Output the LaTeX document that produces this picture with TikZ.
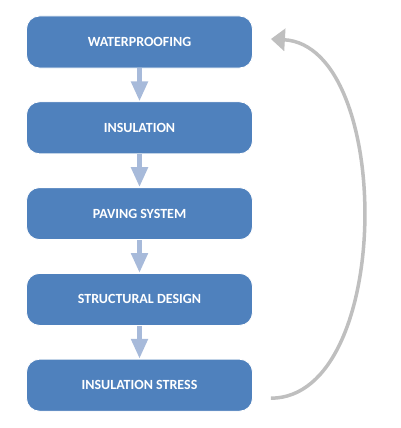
\documentclass[tikz,border=0pt]{standalone}
\usepackage{fontspec}
\setmainfont{Carlito}
\usetikzlibrary{arrows.meta}
\definecolor{boxblue}{HTML}{4F81BD}
\definecolor{arrowblue}{HTML}{A7BADA}
\definecolor{loopgray}{HTML}{BFBFBF}
\tikzset{
  stepbox/.style={rectangle, rounded corners=13pt, fill=boxblue, draw=white, line width=0.8pt,
    minimum width=226pt, minimum height=52pt, text=white, font=\bfseries\fontsize{14}{16}\selectfont},
  downarrow/.style={draw=arrowblue, line width=5pt, -{Triangle[length=20pt,width=16pt]}},
  looparrow/.style={draw=loopgray, line width=3.5pt, -{Triangle[length=14pt,width=22pt]}}
}
\begin{document}
\begin{tikzpicture}[x=1pt,y=-1pt]
\useasboundingbox (0,0) rectangle (400,428);
\node[stepbox] (a) at (139.5,42) {WATERPROOFING};
\node[stepbox] (b) at (139.5,127.8) {INSULATION};
\node[stepbox] (c) at (139.5,213.6) {PAVING SYSTEM};
\node[stepbox] (d) at (139.5,299.4) {STRUCTURAL DESIGN};
\node[stepbox] (e) at (139.5,385.2) {INSULATION STRESS};
\draw[downarrow] (a.south) -- (b.north);
\draw[downarrow] (b.south) -- (c.north);
\draw[downarrow] (c.south) -- (d.north);
\draw[downarrow] (d.south) -- (e.north);
\coordinate (s) at ([xshift=18pt,yshift=-13pt]e.east);
\coordinate (t) at ([xshift=18pt,yshift=3pt]a.east);
\draw[looparrow] (s) .. controls (394,398) and (394,46) .. (t);
\end{tikzpicture}
\end{document}
